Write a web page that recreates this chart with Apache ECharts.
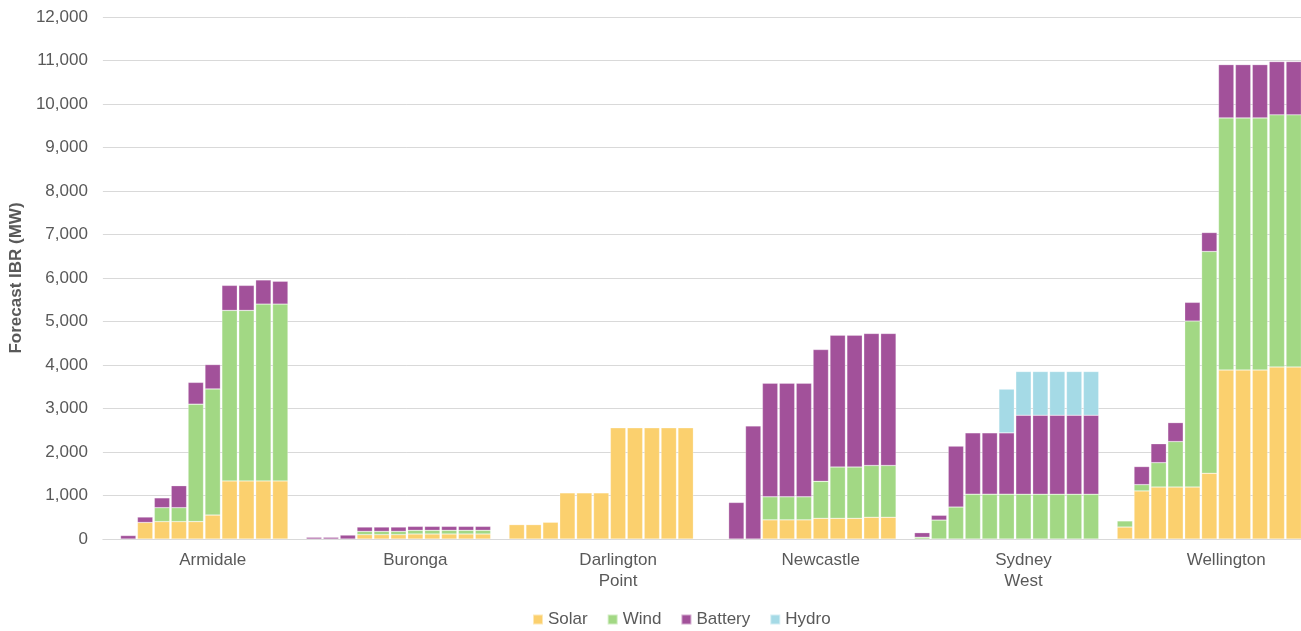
<!DOCTYPE html>
<html>
<head>
<meta charset="utf-8">
<script src="https://cdn.jsdelivr.net/npm/echarts@6/dist/echarts.min.js"></script>
<style>
  html, body { margin: 0; padding: 0; background: #fff; overflow: hidden; }
  #chart { width: 1330px; height: 631px; }
</style>
</head>
<body>
<div id="chart"></div>
<script>
// Regions (each group = 12 slots: 11 yearly bars + a blank separator)
const groups = ['Armidale', 'Buronga', 'Darlington\nPoint', 'Newcastle', 'Sydney\nWest', 'Wellington'];
const slotsPerGroup = 12;

// Forecast IBR (MW), one value per slot, group by group
const solar = [
  0, 0, 380, 400, 400, 400, 550, 1335, 1335, 1335, 1335, 0,          // Armidale
  0, 0, 0, 100, 100, 100, 115, 115, 115, 115, 115, 0,                // Buronga
  330, 330, 385, 1060, 1060, 1060, 2555, 2555, 2555, 2555, 2555, 0,  // Darlington Point
  0, 0, 0, 440, 440, 440, 475, 475, 475, 500, 500, 0,                // Newcastle
  0, 0, 0, 0, 0, 0, 0, 0, 0, 0, 0, 0,                                // Sydney West
  275, 1105, 1195, 1195, 1195, 1510, 3885, 3885, 3885, 3955, 3955, 0 // Wellington
];
const wind = [
  0, 0, 0, 320, 320, 2700, 2900, 3920, 3920, 4065, 4065, 0,
  0, 0, 0, 75, 75, 75, 85, 85, 85, 85, 85, 0,
  0, 0, 0, 0, 0, 0, 0, 0, 0, 0, 0, 0,
  0, 0, 0, 530, 530, 530, 850, 1180, 1180, 1190, 1190, 0,
  40, 435, 735, 1030, 1030, 1030, 1030, 1030, 1030, 1030, 1030, 0,
  140, 145, 560, 1045, 3815, 5100, 5795, 5795, 5795, 5795, 5795, 0
];
const battery = [
  0, 80, 125, 225, 505, 500, 560, 575, 575, 555, 525, 0,
  40, 40, 90, 100, 100, 100, 90, 90, 90, 90, 90, 0,
  0, 0, 0, 0, 0, 0, 0, 0, 0, 0, 0, 0,
  0, 840, 2600, 2610, 2610, 2610, 3030, 3030, 3030, 3035, 3035, 0,
  105, 110, 1400, 1410, 1410, 1410, 1815, 1815, 1815, 1815, 1815, 0,
  0, 415, 435, 435, 430, 435, 1225, 1225, 1225, 1225, 1225, 0
];
const hydro = [
  0, 0, 0, 0, 0, 0, 0, 0, 0, 0, 0, 0,
  0, 0, 0, 0, 0, 0, 0, 0, 0, 0, 0, 0,
  0, 0, 0, 0, 0, 0, 0, 0, 0, 0, 0, 0,
  0, 0, 0, 0, 0, 0, 0, 0, 0, 0, 0, 0,
  0, 0, 0, 0, 0, 1005, 1005, 1005, 1005, 1005, 1005, 0,
  0, 0, 0, 0, 0, 0, 0, 0, 0, 0, 0, 0
];

const seriesNames = ['Solar', 'Wind', 'Battery', 'Hydro'];
const seriesColors = ['#FBD06E', '#A2D884', '#A2519A', '#A5DAE6'];
const yTicks = { min: 0, max: 12000, interval: 1000 };

const slots = [];
groups.forEach((g, gi) => { for (let i = 0; i < slotsPerGroup; i++) slots.push(gi + '-' + i); });

const font = 'Liberation Sans, Arial, sans-serif';
const grey = '#595959';

const toData = arr => arr.map(v => (v === 0 ? null : v));

const chart = echarts.init(document.getElementById('chart'), null, { renderer: 'canvas' });
chart.setOption({
  animation: false,
  textStyle: { fontFamily: font },
  grid: { left: 102.3, width: 1216.8, top: 17, bottom: 92, containLabel: false },
  legend: {
    data: seriesNames,
    left: 527, top: 606,
    icon: 'rect', itemWidth: 10, itemHeight: 10, itemGap: 19,
    textStyle: { fontSize: 17, color: grey, fontFamily: font }
  },
  xAxis: {
    type: 'category',
    data: slots,
    axisTick: { show: false },
    axisLine: { lineStyle: { color: '#d9d9d9', width: 1 } },
    axisLabel: {
      interval: idx => idx % slotsPerGroup === 6,
      formatter: (v, idx) => groups[Math.floor(idx / slotsPerGroup)],
      fontSize: 17, color: grey, margin: 11, lineHeight: 21, fontFamily: font
    }
  },
  yAxis: {
    type: 'value',
    min: yTicks.min, max: yTicks.max, interval: yTicks.interval,
    name: 'Forecast IBR (MW)',
    nameLocation: 'middle',
    nameGap: 76,
    nameTextStyle: { fontSize: 17, fontWeight: 'bold', color: grey, fontFamily: font },
    axisLine: { show: false },
    axisTick: { show: false },
    splitLine: { lineStyle: { color: '#d9d9d9', width: 1 } },
    axisLabel: {
      fontSize: 17, color: grey, margin: 15, fontFamily: font,
      formatter: v => v.toLocaleString('en-US')
    }
  },
  series: [solar, wind, battery, hydro].map((arr, i) => ({
    name: seriesNames[i],
    type: 'bar',
    stack: 'ibr',
    data: toData(arr),
    barCategoryGap: '9%',
    itemStyle: { color: seriesColors[i], borderColor: 'rgba(255,255,255,0.5)', borderWidth: 0.5 }
  }))
});
</script>
</body>
</html>
